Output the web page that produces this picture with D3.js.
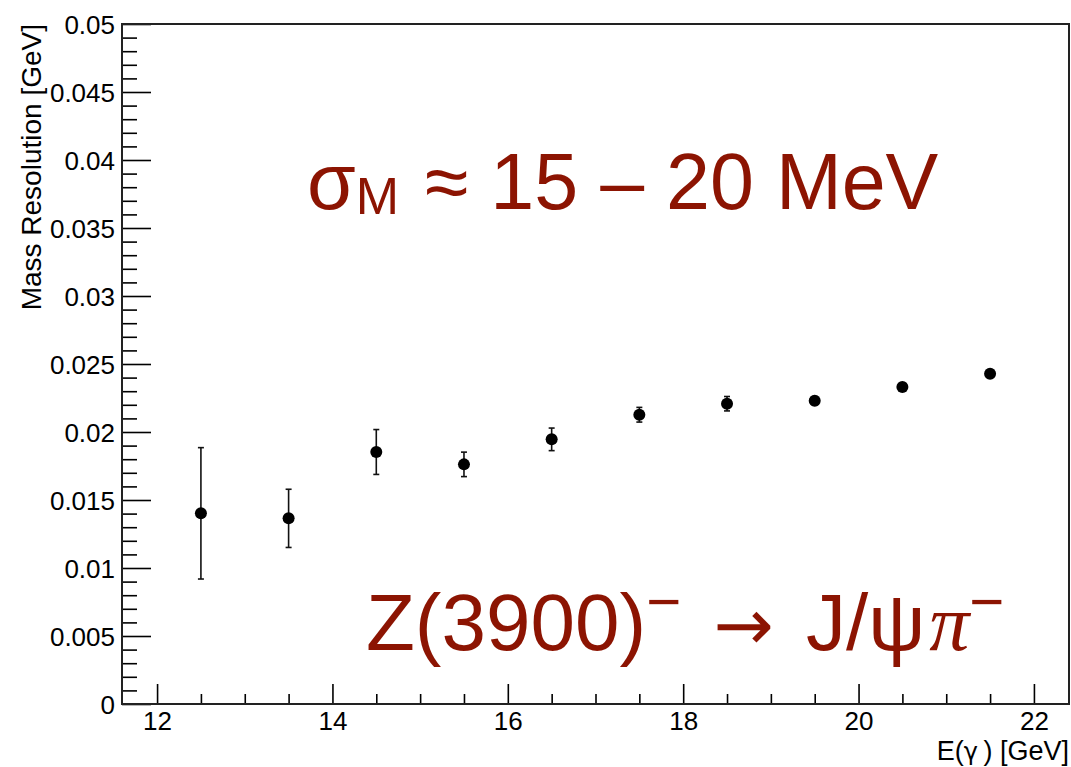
<!DOCTYPE html>
<html>
<head>
<meta charset="utf-8">
<script src="https://cdn.jsdelivr.net/npm/d3@7"></script>
<style>
  body { margin: 0; background: #fff; }
  svg text { font-family: "Liberation Sans", Arial, Helvetica, sans-serif; }
</style>
</head>
<body>
<div id="chart"></div>
<script>
// photon energy bin centres [GeV]
const energies = [12.5, 13.5, 14.5, 15.5, 16.5, 17.5, 18.5, 19.5, 20.5, 21.5];
// fitted mass resolution [GeV]
const resolution = [0.01402, 0.01365, 0.01853, 0.01762, 0.01946, 0.02127, 0.02208, 0.02230, 0.02331, 0.02429];
// uncertainty on the resolution [GeV]
const resolutionErr = [0.00483, 0.00214, 0.00165, 0.00090, 0.00083, 0.00054, 0.00053, 0.00030, 0.00025, 0.00022];

const xMajorTicks = [12, 14, 16, 18, 20, 22];
const yMajorTicks = [0, 0.005, 0.01, 0.015, 0.02, 0.025, 0.03, 0.035, 0.04, 0.045, 0.05];
const yTickLabels = ["0", "0.005", "0.01", "0.015", "0.02", "0.025", "0.03", "0.035", "0.04", "0.045", "0.05"];

const yLabel = "Mass Resolution [GeV]";

const margin = {top: 24, right: 2, bottom: 63, left: 122};
const size = {width: 1071, height: 767};
const width = size.width - margin.left - margin.right;
const height = size.height - margin.top - margin.bottom;
const textColor = "#8c1402";

const svg = d3.select("#chart").append("svg")
    .attr("width", size.width)
    .attr("height", size.height);

const g = svg.append("g")
    .attr("transform", "translate(" + margin.left + "," + margin.top + ")");

const xScale = d3.scaleLinear().domain([11.6, 22.4]).range([0, width]);
const yScale = d3.scaleLinear().domain([0, 0.05]).range([height, 0]);

// minor ticks
const xMinor = d3.range(24, 45).map(v => v / 2).filter(v => v % 2 !== 0);
const yMinor = d3.range(0, 51).map(v => v / 1000).filter((v, i) => i % 5 !== 0);

g.append("g")
    .attr("class", "xMinorG")
    .attr("transform", "translate(0," + height + ")")
    .call(d3.axisBottom(xScale).tickValues(xMinor).tickSizeInner(-10).tickSizeOuter(0).tickFormat(""));

g.append("g")
    .attr("class", "yMinorG")
    .call(d3.axisLeft(yScale).tickValues(yMinor).tickSizeInner(-15).tickSizeOuter(0).tickFormat(""));

g.append("g")
    .attr("class", "xAxisG")
    .attr("transform", "translate(0," + height + ")")
    .call(d3.axisBottom(xScale).tickValues(xMajorTicks).tickSizeInner(-20).tickSizeOuter(0).tickPadding(8).tickFormat(d3.format("d")));

g.append("g")
    .attr("class", "yAxisG")
    .call(d3.axisLeft(yScale).tickValues(yMajorTicks).tickSizeInner(-29).tickSizeOuter(0).tickPadding(7)
        .tickFormat((d, i) => yTickLabels[i]));

g.selectAll(".domain").remove();
g.selectAll(".tick line").attr("stroke", "#000").attr("stroke-width", 1.6);
g.selectAll(".xAxisG text, .yAxisG text")
    .attr("fill", "#000")
    .style("font-size", "26px");
g.selectAll(".yAxisG text").attr("dy", "0.35em");

// frame
g.append("rect")
    .attr("x", 0).attr("y", 0)
    .attr("width", width).attr("height", height)
    .attr("fill", "none")
    .attr("stroke", "#222")
    .attr("stroke-width", 2);

// axis titles
const xTitle = svg.append("text")
    .attr("x", margin.left + width)
    .attr("y", 760)
    .attr("text-anchor", "end")
    .style("font-size", "27px");
xTitle.append("tspan").text("E(");
xTitle.append("tspan").style("font-family", "'DejaVu Sans', sans-serif").style("font-size", "24px").text("\u03b3");
xTitle.append("tspan").text("\u2009) [GeV]");

svg.append("text")
    .attr("transform", "translate(41," + margin.top + ") rotate(-90)")
    .attr("text-anchor", "end")
    .style("font-size", "28px")
    .text(yLabel);

// data points with error bars
const points = energies.map((e, i) => ({x: e, y: resolution[i], err: resolutionErr[i]}));
const capHalf = 3;

const markerG = g.selectAll(".markerG")
    .data(points)
    .join("g")
    .attr("class", "markerG")
    .attr("transform", d => "translate(" + xScale(d.x) + ",0)");

markerG.append("line")
    .attr("x1", 0).attr("x2", 0)
    .attr("y1", d => yScale(d.y - d.err))
    .attr("y2", d => yScale(d.y + d.err))
    .attr("stroke", "#111").attr("stroke-width", 1.6);

markerG.selectAll(".cap")
    .data(d => [d.y - d.err, d.y + d.err])
    .join("line")
    .attr("class", "cap")
    .attr("x1", -capHalf).attr("x2", capHalf)
    .attr("y1", v => yScale(v)).attr("y2", v => yScale(v))
    .attr("stroke", "#111").attr("stroke-width", 1.6);

markerG.append("circle")
    .attr("class", "markerCircle")
    .attr("cy", d => yScale(d.y))
    .attr("r", 6)
    .attr("fill", "#000");

// annotations
const sigmaText = svg.append("text")
    .attr("x", 307)
    .attr("y", 209)
    .attr("fill", textColor)
    .style("font-size", "79px");
sigmaText.append("tspan").text("\u03c3");
sigmaText.append("tspan").attr("dy", 5).style("font-size", "52px").text("M");
sigmaText.append("tspan").attr("dy", -5).attr("dx", 4).text(" \u2248 15 \u2013 20 MeV");

const decayText = svg.append("text")
    .attr("x", 366)
    .attr("y", 650)
    .attr("fill", textColor)
    .style("font-size", "80px");
decayText.append("tspan").text("Z(3900)");
decayText.append("tspan").attr("dy", -28).style("font-size", "60px").text("\u2212");
decayText.append("tspan").attr("dy", 28).text(" ");
decayText.append("tspan").attr("dx", 10).style("font-family", "'DejaVu Sans', sans-serif").style("font-size", "72px").text("\u2192");
decayText.append("tspan").attr("dx", 10).text(" J/\u03c8");
decayText.append("tspan")
    .attr("dx", 4)
    .style("font-family", "'Liberation Serif', 'DejaVu Serif', serif")
    .style("font-style", "italic")
    .text("\u03c0");
decayText.append("tspan").attr("dy", -28).style("font-size", "60px").text("\u2212");
</script>
</body>
</html>
